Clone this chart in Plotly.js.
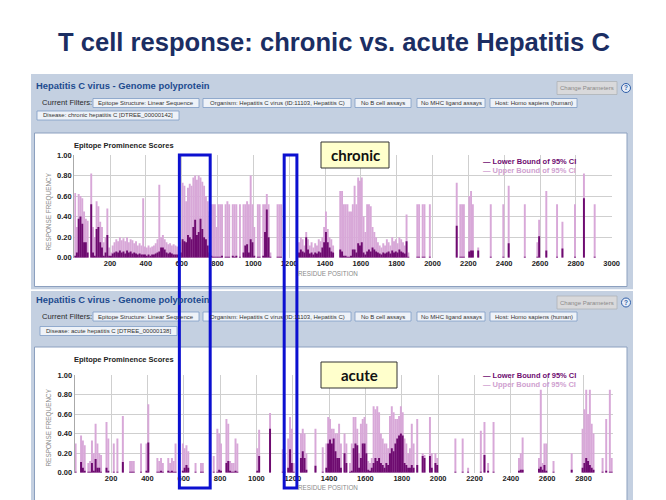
<!DOCTYPE html>
<html><head><meta charset="utf-8">
<script src="https://cdn.plot.ly/plotly-3.0.1.min.js"></script>
<style>html,body{margin:0;padding:0;background:#fff;}#chart{width:666px;height:500px;}</style>
</head><body><div id="chart"></div>
<script>
// ---- DATA (10-residue bins: bin start, upper bound, lower bound of 95% CI) ----
const chronicPos = [0,10,20,30,40,50,60,70,90,100,110,120,130,140,150,160,170,180,190,200,210,220,230,240,250,260,270,280,290,300,310,320,330,340,350,360,370,380,390,400,410,420,430,440,450,460,470,480,490,500,510,520,530,540,550,560,570,580,590,600,610,620,630,640,650,660,670,680,690,700,710,720,730,740,750,760,770,780,790,800,810,820,840,850,860,880,890,900,920,940,950,960,970,980,990,1000,1020,1030,1050,1060,1070,1080,1090,1130,1140,1150,1250,1260,1270,1280,1290,1300,1310,1320,1330,1340,1350,1360,1370,1380,1390,1400,1410,1420,1430,1440,1480,1490,1500,1510,1520,1530,1540,1550,1560,1570,1580,1590,1600,1610,1620,1630,1640,1650,1660,1670,1680,1690,1700,1710,1720,1730,1740,1750,1760,1770,1780,1790,1800,1810,1820,1830,1840,1850,1860,1910,1920,1940,1950,1980,2130,2150,2160,2170,2200,2210,2220,2250,2320,2390,2420,2510,2580,2590,2630,2690,2720,2790,2840,2900];
const chronicUpper = [.63,.30,.62,.60,.58,.45,.38,.36,.82,.30,.20,.55,.50,.35,.30,.15,.20,.48,.10,.05,.12,.15,.18,.16,.20,.17,.19,.16,.20,.15,.18,.17,.14,.16,.12,.14,.12,.58,.11,.10,.12,.10,.11,.12,.14,.18,.71,.20,.22,.18,.15,.13,.14,.12,.13,.12,.11,.10,.15,.73,.70,.55,.68,.72,.70,.78,.80,.76,.80,.78,.74,.70,.60,.55,.45,.52,.52,.52,.30,.52,.52,.52,.52,.55,.52,.52,.52,.52,.52,.52,.52,.55,.52,.80,.52,.30,.52,.52,.52,.52,.62,.52,.05,.52,.52,.52,.15,.20,.18,.12,.25,.18,.12,.15,.10,.14,.12,.18,.16,.20,.30,.45,.28,.20,.18,.12,.65,.65,.52,.52,.52,.45,.45,.52,.70,.52,.78,.75,.78,.40,.25,.52,.52,.50,.30,.25,.20,.15,.12,.10,.14,.12,.18,.15,.12,.20,.16,.18,.14,.20,.18,.15,.12,.42,.05,.52,.52,.52,.52,.52,.73,.52,.52,.52,.60,.65,.52,.10,.52,.52,.70,.52,.15,.37,.65,.52,.35,.52,.82,.52];
const chronicLower = [.02,.05,.38,.40,.33,.15,.15,.05,.52,.05,.02,.28,.30,.15,.10,.02,.05,.22,.02,.02,.04,.05,.06,.05,.07,.05,.06,.04,.07,.05,.06,.04,.05,.04,.03,.04,.03,.03,.03,.02,.03,.02,.03,.03,.04,.05,.06,.10,.10,.08,.05,.04,.05,.04,.03,.03,.03,.02,.05,.18,.16,.15,.22,.20,.18,.30,.37,.22,.25,.38,.28,.20,.18,.12,.05,.02,.01,.01,.01,.01,.01,.02,.01,.01,.01,.02,.01,.02,.01,.05,.12,.13,.05,.18,.15,.02,.01,.01,.02,.25,.47,.20,.01,.01,.01,.01,.05,.08,.06,.05,.20,.08,.04,.05,.03,.05,.04,.06,.05,.10,.15,.25,.15,.10,.06,.05,.08,.06,.02,.02,.01,.01,.02,.08,.08,.05,.14,.12,.15,.05,.03,.06,.08,.06,.10,.08,.06,.05,.04,.03,.05,.04,.05,.06,.04,.07,.05,.06,.05,.08,.06,.05,.04,.16,.01,.01,.01,.01,.01,.01,.31,.01,.01,.01,.06,.07,.07,.07,.01,.01,.14,.01,.01,.21,.07,.01,.09,.01,.58,.01];

const acutePos = [0,30,40,50,70,80,90,100,110,120,130,140,170,180,210,230,260,300,310,320,360,390,400,450,460,470,480,510,520,530,540,550,590,600,610,620,660,690,700,760,780,790,800,830,840,850,860,870,880,890,1000,1010,1070,1140,1150,1170,1180,1190,1200,1240,1250,1260,1270,1320,1360,1380,1390,1400,1410,1420,1430,1440,1450,1460,1480,1490,1510,1520,1530,1540,1550,1560,1570,1580,1590,1600,1610,1620,1630,1640,1650,1660,1670,1680,1690,1700,1710,1720,1730,1740,1750,1760,1770,1780,1790,1800,1810,1820,1830,1840,1850,1860,1880,1910,1920,1950,1960,1980,1990,2090,2130,2160,2230,2250,2270,2300,2440,2450,2460,2550,2560,2570,2580,2590,2630,2730,2790,2800,2810,2820,2830,2840,2850,2900,2920,2940,2950];
const acuteUpper = [.30,.38,.33,.28,.10,.12,.33,.20,.50,.30,.20,.18,.52,.35,.30,.35,.58,.12,.12,.12,.30,.30,.70,.15,.12,.15,.10,.15,.10,.15,.12,.30,.30,.25,.28,.22,.10,.10,.10,.17,.45,.40,.30,.55,.50,.12,.10,.10,.35,.30,.25,.44,.61,.24,.20,.35,.57,.45,.10,.40,.45,.40,.20,.45,.26,.30,.57,.55,.45,.45,.40,.40,.50,.30,.40,.30,.10,.30,.57,.57,.45,.20,.50,.55,.57,.50,.12,.10,.15,.68,.65,.68,.62,.40,.35,.30,.30,.25,.58,.68,.62,.55,.55,.58,.68,.62,.35,.30,.20,.25,.50,.30,.55,.20,.18,.57,.20,.20,.15,.35,.35,.05,.43,.52,.10,.52,.15,.20,.36,.15,.85,.10,.30,.30,.12,.20,.45,.65,.85,.60,.85,.50,.40,.15,.55,.85,.15];
const acuteLower = [.01,.11,.05,.02,.01,.01,.10,.02,.14,.05,.05,.01,.05,.02,.01,.01,.11,.01,.01,.01,.01,.02,.31,.01,.01,.02,.01,.02,.01,.02,.01,.01,.02,.05,.08,.05,.01,.01,.01,.01,.01,.03,.02,.10,.12,.02,.01,.01,.02,.01,.02,.17,.45,.01,.01,.05,.24,.10,.01,.15,.22,.15,.03,.07,.01,.05,.30,.34,.30,.35,.22,.15,.15,.05,.20,.10,.01,.02,.25,.30,.28,.05,.15,.30,.30,.20,.03,.02,.05,.10,.15,.12,.15,.10,.08,.05,.10,.08,.20,.25,.22,.30,.35,.38,.40,.38,.10,.08,.05,.05,.08,.05,.08,.17,.15,.17,.05,.10,.08,.01,.01,.01,.01,.18,.02,.01,.02,.03,.03,.04,.06,.03,.08,.02,.01,.03,.05,.10,.15,.12,.08,.05,.03,.01,.02,.01,.01];

const chronicTicks = [200,400,600,800,1000,1200,1400,1600,1800,2000,2200,2400,2600,2800,3000];
const acuteTicks = [200,400,600,800,1000,1200,1400,1600,1800,2000,2200,2400,2600,2800];
const yTicks = [0,0.2,0.4,0.6,0.8,1.0];
const yTickText = ['0.00','0.20','0.40','0.60','0.80','1.00'];
const filterLabels = ['Epitope Structure: Linear Sequence','Organism: Hepatitis C virus (ID:11103, Hepatitis C)','No B cell assays','No MHC ligand assays','Host: Homo sapiens (human)'];
const diseaseLabels = ['Disease: chronic hepatitis C [DTREE_00000142]','Disease: acute hepatitis C [DTREE_00000138]'];
const groupLabels = ['chronic','acute'];

// ---- helpers ----
const W = 666, H = 500;
const px = x => x / W, py = y => 1 - y / H;
const UP = '#D8A8D8', LO = '#6E0B70';
const SANS = 'Liberation Sans, Arial, sans-serif';

function bars(pos, vals, color, xa, ya) {
  return {type:'bar', x: pos.map(p => p + 5), y: vals, width: 10.8, xaxis: xa, yaxis: ya,
    marker:{color: color, line:{width:0}}, hoverinfo:'skip', showlegend:false};
}
const data = [
  bars(chronicPos, chronicUpper, UP, 'x', 'y'),
  bars(chronicPos, chronicLower, LO, 'x', 'y'),
  bars(acutePos, acuteUpper, UP, 'x2', 'y2'),
  bars(acutePos, acuteLower, LO, 'x2', 'y2')
];

const tickFont = {family: SANS, size: 7.5, color: '#222', weight: 'bold'};
function xAxis(dom, range, ticks, anchor) {
  return {domain: dom, range: range, anchor: anchor, tickvals: ticks, ticktext: ticks.map(String),
    showgrid: true, gridcolor: '#cfcfcf', gridwidth: 1, zeroline: false, showline: false,
    ticks: '', tickfont: tickFont, fixedrange: true};
}
function yAxis(dom, anchor) {
  return {domain: dom, range: [0, 1], anchor: anchor, tickvals: yTicks, ticktext: yTickText,
    showgrid: true, gridcolor: '#cfcfcf', gridwidth: 1, zeroline: false, showline: true,
    linecolor: '#aaaaaa', linewidth: 1, ticks: '', tickfont: tickFont, fixedrange: true};
}

const shapes = [];
const ann = [];
function rect(x0, y0, x1, y1, fill, line, lw, layer) {
  shapes.push({type:'rect', xref:'paper', yref:'paper', x0: px(x0), x1: px(x1), y0: py(y1), y1: py(y0),
    fillcolor: fill, line:{color: line || 'rgba(0,0,0,0)', width: lw || 0}, layer: layer || 'below'});
}
function text(t, x, y, size, color, opts) {
  opts = opts || {};
  ann.push(Object.assign({xref:'paper', yref:'paper', x: px(x), y: py(y), text: t, showarrow:false,
    xanchor:'left', yanchor:'middle', borderpad:0,
    font:{family: opts.family || SANS, size: size, color: color, weight: opts.weight || 'normal'}}, opts.extra || {}));
}

// slide title
text('<b>T cell response: chronic vs. acute Hepatitis C</b>', 334, 42, 25.6, '#1b2e63', {extra:{xanchor:'center'}});

// panels
const panels = [
  {top: 74, bottom: 289.5, title: 85, filt: 103, dis: 115.5, box: 133, boxBottom: 286.5},
  {top: 291, bottom: 501, title: 299.5, filt: 316.5, dis: 331, box: 347, boxBottom: 502}
];
const filterBoxes = [[93,199],[203,351],[355,411],[417,485],[490,577]];
panels.forEach((p, i) => {
  rect(31, p.top, 633, p.bottom, '#C4D0E1');
  rect(34.5, p.box, 627, p.boxBottom, '#ffffff', '#8CA0BF', 1);
  text('<b>Hepatitis C virus - Genome polyprotein</b>', 35, p.title, 9.4, '#1d4b8f');
  // Change Parameters button
  rect(557, p.title - 3.5, 617, p.title + 9.5, '#D9D9DB', '#AEB2B8', 0.8);
  text('Change Parameters', 587, p.title + 3, 6, '#8a8a8a', {extra:{xanchor:'center'}});
  shapes.push({type:'circle', xref:'paper', yref:'paper', x0: px(621.5), x1: px(630.5),
    y0: py(p.title + 7.5), y1: py(p.title - 1.5), fillcolor:'#E6ECF7', line:{color:'#2F5FA8', width:1}, layer:'below'});
  text('<b>?</b>', 626, p.title + 3, 6.5, '#2F5FA8', {extra:{xanchor:'center'}});
  text('Current Filters:', 41, p.filt, 7.6, '#2a2a2a');
  filterBoxes.forEach((b, k) => {
    rect(b[0], p.filt - 4.5, b[1], p.filt + 4.5, '#EEF2F8', '#7F9CC5', 0.8);
    text(filterLabels[k], (b[0] + b[1]) / 2, p.filt, 6, '#333', {extra:{xanchor:'center'}});
  });
  const dw = i === 0 ? [37, 179] : [40, 177];
  rect(dw[0], p.dis - 4.5, dw[1], p.dis + 4.5, '#EEF2F8', '#7F9CC5', 0.8);
  text(diseaseLabels[i], (dw[0] + dw[1]) / 2, p.dis, 6, '#333', {extra:{xanchor:'center'}});
});
// separator between panels
rect(31, 289.5, 633, 291, '#ffffff');

// chart decorations
const charts = [
  {title: 145, ymid: 211.5, xt: 273, leg: 161, yb: [142, 168], yx: [321, 389]},
  {title: 359, ymid: 427.5, xt: 487, leg: 375, yb: [362, 388], yx: [321, 397]}
];
charts.forEach((c, i) => {
  text('<b>Epitope Prominence Scores</b>', 73, c.title, 7.5, '#222');
  text('RESPONSE FREQUENCY', 48, c.ymid, 6.4, '#8a8a8a', {extra:{xanchor:'center', textangle:-90}});
  text('RESIDUE POSITION', 328, c.xt, 6.3, '#8a8a8a', {extra:{xanchor:'center'}});
  text('<b>— Lower Bound of 95% CI</b>', 482, c.leg, 7.5, LO);
  text('<b>— Upper Bound of 95% CI</b>', 482, c.leg + 9, 7.5, '#CFA0CF');
  rect(c.yx[0], c.yb[0], c.yx[1], c.yb[1], '#FFFFCC', '#333', 1, 'above');
  text('<b>' + groupLabels[i] + '</b>', (c.yx[0] + c.yx[1]) / 2, (c.yb[0] + c.yb[1]) / 2, 15, '#111',
    {family: 'Lato, Open Sans, sans-serif', extra:{xanchor:'center'}});
});

// highlight boxes (residue ranges) spanning both charts
[[587, 759], [1172, 1243]].forEach(r => {
  shapes.push({type:'rect', xref:'x', yref:'paper', x0: r[0], x1: r[1], y0: py(488), y1: py(155),
    fillcolor:'rgba(0,0,0,0)', line:{color:'#0c10d0', width:3}, layer:'above'});
});

const layout = {
  width: W, height: H, margin:{l:0, r:0, t:0, b:0},
  paper_bgcolor:'#ffffff', plot_bgcolor:'rgba(0,0,0,0)',
  barmode:'overlay', showlegend:false,
  xaxis: xAxis([px(74.2), px(611.7)], [0, 3000], chronicTicks, 'y'),
  yaxis: yAxis([py(257.7), py(155)], 'x'),
  xaxis2: xAxis([px(74.7), px(613.3)], [0, 2964], acuteTicks, 'y2'),
  yaxis2: yAxis([py(472.7), py(375)], 'x2'),
  shapes: shapes, annotations: ann
};
Plotly.newPlot('chart', data, layout, {staticPlot: true, displayModeBar: false});
</script></body></html>
